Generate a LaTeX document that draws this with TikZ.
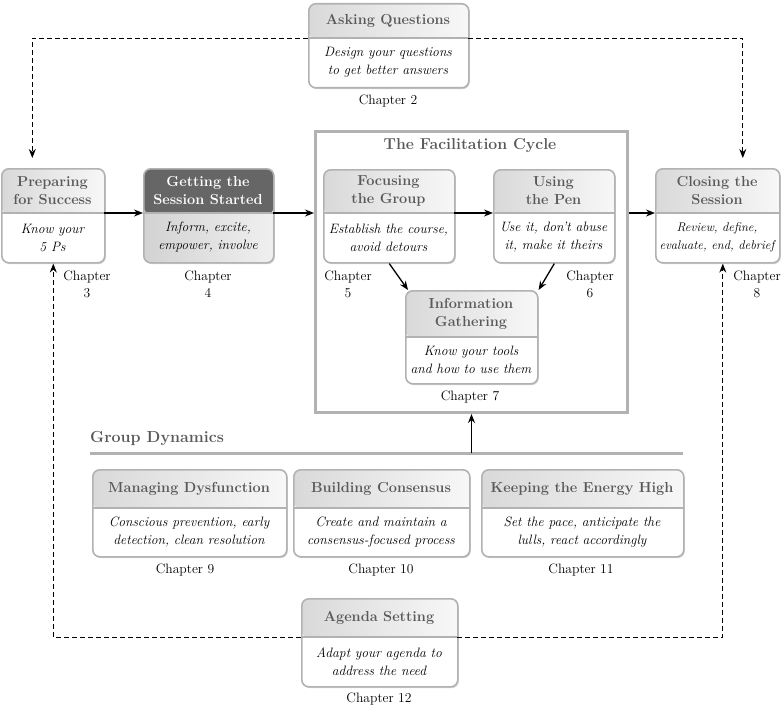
\documentclass[tikz,border=0pt]{standalone}
\usetikzlibrary{arrows.meta,shadows}

\newcommand\headfont{\fontsize{14.5}{18}\selectfont\bfseries}
\newcommand\bodyfont{\fontsize{13.6}{18}\selectfont\itshape}
\newcommand\chapfont{\fontsize{13.6}{17}\selectfont}

\tikzset{
  boxline/.style={draw=gray!60, line width=1.6pt},
  head shade/.style={left color=gray!30, right color=gray!6},
  body shade/.style={fill=white},
  headtext/.style={text=black!65, font=\headfont},
  bodytext/.style={font=\bodyfont},
  topicbox/.style={boxline, rounded corners=7pt, fill=white,
    drop shadow={shadow xshift=1pt, shadow yshift=-1.3pt, opacity=.35}},
  flowarrow/.style={line width=1.3pt, -{Stealth[length=9pt,width=7pt,inset=3pt]}},
  feedback/.style={line width=0.9pt, dash pattern=on 5pt off 3pt,
    -{Stealth[length=9pt,width=7pt,inset=3pt]}},
  chap/.style={font=\chapfont, align=center}
}

% #1 extra style, #2 name, #3 left, #4 top, #5 right, #6 divider, #7 bottom, #8 title, #9 text
\newcommand\topic[9][]{%
  \begin{scope}[#1]
  \node[topicbox, minimum width=#5-#3, minimum height=#7-#4, anchor=north west,
    path picture={
      \path[body shade] (path picture bounding box.north west) rectangle (path picture bounding box.south east);
      \path[head shade] (path picture bounding box.north west) rectangle ([yshift={-(#6-#4)}]path picture bounding box.north east);
    }] (#2) at (#3,#4) {};
  \node[headtext, align=center, inner sep=0, outer sep=0, minimum width=#5-#3, minimum height=#6-#4]
    (#2-h) at ({(#3+#5)/2},{(#4+#6)/2}) {#8};
  \node[bodytext, align=center, inner sep=0, outer sep=0]
    (#2-b) at ({(#3+#5)/2},{(#6+#7)/2}) {#9};
  \draw[boxline] (#2-h.south west) -- (#2-h.south east);
  \end{scope}}

\begin{document}
\begin{tikzpicture}[x=1pt, y=-1pt]
  \useasboundingbox (0,0) rectangle (781,706);

  % facilitation cycle frame
  \node[draw=gray!60, line width=3pt, minimum width=312, minimum height=281, anchor=north west] (cycle) at (314,130) {};
  \node[headtext, font=\fontsize{15.8}{18}\selectfont\bfseries] (cycletitle) at (470,146) {The Facilitation Cycle};

  \topic{ask}{308}{3}{468}{38}{87}{Asking Questions}{Design your questions\\to get better answers}
  \topic{prep}{1}{168}{104}{213}{262}{Preparing\\for Success}{Know your\\5 Ps}
  \topic[head shade/.style={fill=black!60}, body shade/.style={left color=gray!35, right color=gray!12},
    headtext/.append style={text=white}]{start}{143}{168}{273}{213}{262}{Getting the\\Session Started}{Inform, excite,\\empower, involve}
  \topic{focus}{323}{169}{454}{213}{262}{Focusing\\the Group}{Establish the course,\\avoid detours}
  \topic{pen}{493}{169}{614}{213}{262}{Using\\the Pen}{Use it, don't abuse\\it, make it theirs}
  \topic{info}{405}{290}{537}{337}{383}{Information\\Gathering}{Know your tools\\and how to use them}
  \topic[bodytext/.style={font=\fontsize{12.6}{18}\selectfont\itshape}]{close}{655}{168}{779}{213}{262}{Closing the\\Session}{Review, define,\\evaluate, end, debrief}
  \topic{dysf}{92}{469}{286}{508}{556}{Managing Dysfunction}{Conscious prevention, early\\detection, clean resolution}
  \topic{cons}{293}{469}{469}{508}{556}{Building Consensus}{Create and maintain a\\consensus-focused process}
  \topic{energy}{481}{469}{683}{508}{556}{Keeping the Energy High}{Set the pace, anticipate the\\lulls, react accordingly}
  \topic{agenda}{301}{598}{457}{637}{686}{Agenda Setting}{Adapt your agenda to\\address the need}

  % chapter labels
  \node[chap] (ch2) at (388,101) {Chapter 2};
  \node[chap] (ch3) at (87,284) {Chapter\\3};
  \node[chap] (ch4) at (208,284) {Chapter\\4};
  \node[chap] (ch5) at (348,284) {Chapter\\5};
  \node[chap] (ch6) at (590,284) {Chapter\\6};
  \node[chap] (ch7) at (470,397) {Chapter 7};
  \node[chap] (ch8) at (757,284) {Chapter\\8};
  \node[chap] (ch9) at (185,570) {Chapter 9};
  \node[chap] (ch10) at (381,570) {Chapter 10};
  \node[chap] (ch11) at (581,570) {Chapter 11};
  \node[chap] (ch12) at (379,699) {Chapter 12};

  % group dynamics
  \node[headtext, font=\fontsize{16}{18}\selectfont\bfseries, anchor=west, inner sep=0] (gd) at (90,439) {Group Dynamics};
  \coordinate (gdleft) at (90,453);
  \coordinate (gdright) at (683,453);
  \draw[draw=gray!60, line width=3pt] (gdleft) -- (gdright);
  \draw[flowarrow] (cycle.south |- gdleft) -- (cycle.south);

  % main flow
  \draw[flowarrow] (prep-h.south east) -- (start-h.south west);
  \draw[flowarrow] (start-h.south east) -- (start-h.south east -| cycle.west);
  \draw[flowarrow] (focus-h.south east) -- (pen-h.south west);
  \draw[flowarrow] (close-h.south west -| cycle.east) -- (close-h.south west);
  \draw[flowarrow] (focus.south) -- ([xshift=3pt]info.north west);
  \draw[flowarrow] (pen.south) -- (info.north east);

  % feedback loops
  \draw[feedback, shorten >=10pt] (ask-h.south west) -| ([xshift=-21pt]prep.north);
  \draw[feedback, shorten >=10pt] (ask-h.south east) -| ([xshift=25pt]close.north);
  \draw[feedback] (agenda-h.south west) -| (prep.south);
  \draw[feedback] (agenda-h.south east) -| ([xshift=5pt]close.south);
\end{tikzpicture}
\end{document}
